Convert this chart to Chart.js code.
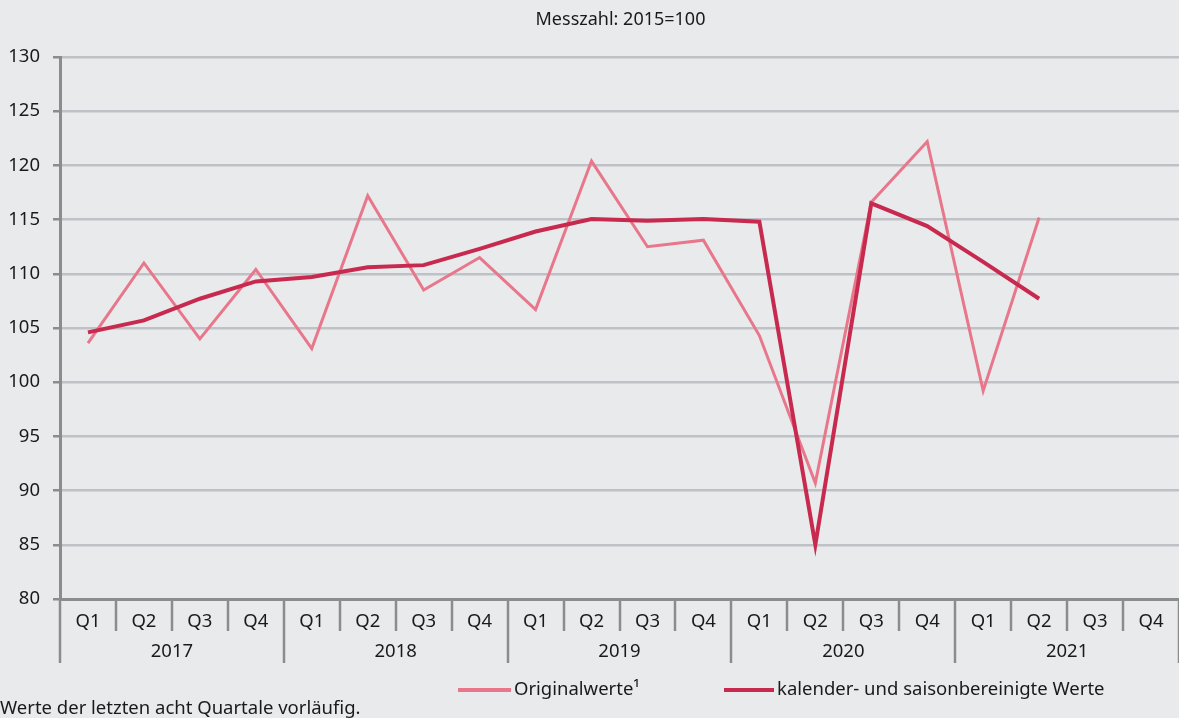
<!DOCTYPE html>
<html>
<head>
<meta charset="utf-8">
<script src="https://cdn.jsdelivr.net/npm/chart.js@4"></script>
<style>
    html, body { margin: 0; padding: 0; background: #e9eaec; }
    #wrap { width: 1179px; height: 718px; }
</style>
</head>
<body>
<div id="wrap"><canvas id="chart"></canvas></div>
<script>
/* ================= DATA ================= */
const years = ["2017", "2018", "2019", "2020", "2021"];
const quarters = ["Q1", "Q2", "Q3", "Q4"];
const originalValues = [103.6, 111.0, 104.0, 110.4, 103.1, 117.2, 108.5, 111.5, 106.7, 120.4, 112.5, 113.1, 104.3, 90.7, 116.6, 122.2, 99.2, 115.2, null, null];
const adjustedValues = [104.6, 105.7, 107.7, 109.3, 109.7, 110.6, 110.8, 112.3, 113.9, 115.05, 114.9, 115.05, 114.8, 85.0, 116.5, 114.4, 111.1, 107.7, null, null];
const seriesNames = ["Originalwerte¹", "kalender- und saisonbereinigte Werte"];
const yTicks = [80, 85, 90, 95, 100, 105, 110, 115, 120, 125, 130];
const titleText = "Messzahl: 2015=100";
const footnoteText = "Werte der letzten acht Quartale vorläufig.";

const labels = [];
years.forEach(() => quarters.forEach(q => labels.push(q)));

const FONT = "'Noto Sans', 'Open Sans', sans-serif";
const AXIS_GREY = "#8c8c8e";
const PINK = "#e8778b";
const CRIMSON = "#c8294f";
const TEXT = "#1a1a1a";

/* ================= DECORATION PLUGIN ================= */
const decorations = {
    id: "decorations",
    afterDraw(chart) {
        const ctx = chart.ctx;
        const x = chart.scales.x;
        const area = chart.chartArea;
        const half = (x.getPixelForValue(1) - x.getPixelForValue(0)) / 2;

        ctx.save();
        // separators below the axis
        ctx.strokeStyle = AXIS_GREY;
        ctx.lineWidth = 2.5;
        for (let i = 0; i <= labels.length; i++) {
            const px = Math.round(x.getPixelForValue(i) - half);
            const isYear = i % 4 === 0;
            ctx.beginPath();
            ctx.moveTo(px, area.bottom);
            ctx.lineTo(px, area.bottom + (isYear ? 64 : 32));
            ctx.stroke();
        }

        // year labels
        ctx.fillStyle = TEXT;
        ctx.font = "18.5px " + FONT;
        ctx.textAlign = "center";
        ctx.textBaseline = "middle";
        years.forEach((y, i) => {
            const left = x.getPixelForValue(i * 4) - half;
            const right = x.getPixelForValue(i * 4 + 3) + half;
            ctx.fillText(y, (left + right) / 2, area.bottom + 53);
        });

        // title
        ctx.font = "18px " + FONT;
        ctx.fillText(titleText, (area.left + area.right) / 2 + 1, 20);

        // legend
        const items = [
            { x: 458, w: 53, color: PINK, text: seriesNames[0] },
            { x: 724, w: 50, color: CRIMSON, text: seriesNames[1] }
        ];
        ctx.font = "18.5px " + FONT;
        ctx.textAlign = "left";
        items.forEach(it => {
            ctx.strokeStyle = it.color;
            ctx.lineWidth = 4;
            ctx.beginPath();
            ctx.moveTo(it.x, 690);
            ctx.lineTo(it.x + it.w, 690);
            ctx.stroke();
            ctx.fillText(it.text, it.x + it.w + 3, 690);
        });

        // footnote
        ctx.fillText(footnoteText, 0, 709);
        ctx.restore();
    }
};

/* ================= CHART ================= */
new Chart(document.getElementById("chart"), {
    type: "line",
    data: {
        labels,
        datasets: [
            {
                label: seriesNames[1],
                data: adjustedValues,
                borderColor: CRIMSON,
                borderWidth: 4,
                pointRadius: 0,
                tension: 0,
                order: 0
            },
            {
                label: seriesNames[0],
                data: originalValues,
                borderColor: PINK,
                borderWidth: 3,
                pointRadius: 0,
                tension: 0,
                order: 1
            }
        ]
    },
    options: {
        responsive: true,
        maintainAspectRatio: false,
        animation: false,
        layout: { padding: { top: 57, right: 0, bottom: 0, left: 0 } },
        plugins: {
            legend: { display: false },
            title: { display: false },
            tooltip: { enabled: false }
        },
        scales: {
            x: {
                offset: true,
                grid: { display: false },
                border: { display: true, color: AXIS_GREY, width: 3 },
                ticks: {
                    color: TEXT,
                    font: { family: FONT, size: 18.5 },
                    padding: 4,
                    maxRotation: 0,
                    autoSkip: false
                },
                afterFit: scale => { scale.height = 119; }
            },
            y: {
                min: 80,
                max: 130,
                afterBuildTicks: scale => { scale.ticks = yTicks.map(v => ({ value: v })); },
                grid: {
                    color: "#c0c1c6",
                    lineWidth: 2.5,
                    tickColor: AXIS_GREY,
                    tickLength: 7
                },
                border: { display: true, color: AXIS_GREY, width: 3 },
                ticks: {
                    color: TEXT,
                    font: { family: FONT, size: 18.5 },
                    padding: 13
                },
                afterFit: scale => { scale.width = 60; }
            }
        }
    },
    plugins: [decorations]
});
</script>
</body>
</html>
